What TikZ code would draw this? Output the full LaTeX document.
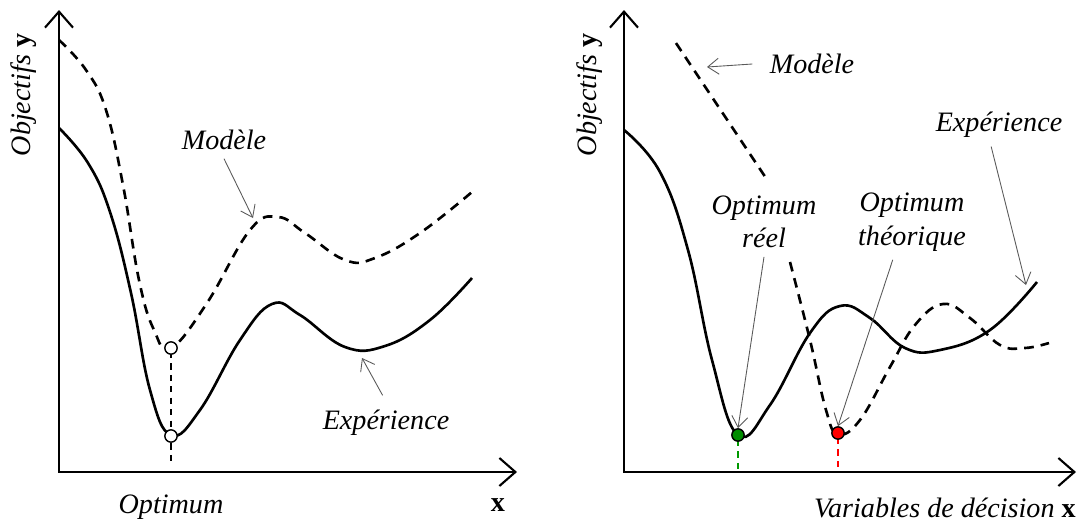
\documentclass[tikz,border=0pt]{standalone}
\usepackage{xcolor}
\usepackage{fontspec}
\setmainfont{Liberation Serif}
\usetikzlibrary{arrows,arrows.meta,positioning}

\begin{document}
\begin{tikzpicture}[
    x=0.02cm, y=-0.02cm,
    font=\fontsize{16}{19}\selectfont\itshape,
    axis/.style={line width=1.2pt, line join=miter, {Straight Barb[length=3.2mm, width=5.6mm]}-{Straight Barb[length=3.2mm, width=5.6mm]}},
    courbe/.style={line width=1.5pt},
    modele/.style={courbe, dash pattern=on 5.5pt off 4pt},
    repere/.style={line width=0.9pt, dash pattern=on 3.5pt off 3pt},
    line/.style={draw, black!65, line width=0.5pt, -{Straight Barb[length=2.2mm, width=3.2mm]}},
    legende/.style={inner sep=2pt, outer sep=3pt, align=center},
    optpt/.style={circle, draw, line width=0.8pt, fill=white, inner sep=0pt, minimum size=7pt}
]
    \useasboundingbox (0,0) rectangle (1080,522);

    % gauche
    \draw [axis] (59,10) |- (517,472);
    \node [rotate=90] (ylab1) at (24,95) {Objectifs \textbf{\textup{y}}};
    \node (xlab1) at (498,505) {\textbf{\textup{x}}};
    \node (optlab) at (171,507) {Optimum};

    \draw [modele] plot [smooth, tension=0.7] coordinates {(59,40) (86,70) (106,110) (123,185) (139,280) (154,330) (171,348) (207,303) (250,230) (278,217) (305,233) (345,260) (375,258) (420,233) (472,192)};
    \draw [courbe] plot [smooth, tension=0.7] coordinates {(59,128) (88,163) (110,212) (131,293) (150,390) (171,435) (200,410) (240,340) (272,304) (300,315) (345,347) (385,346) (430,320) (472,278)};

    \draw [repere] (171,352) -- (171,466);
    \node [optpt] (mod1) at (171,348) {};
    \node [optpt] (exp1pt) at (171,436) {};

    \node [legende] (modele1) at (224,140) {Modèle};
    \node [legende] (exp1) at (386,423) {Expérience};
    \coordinate (pm1) at (253,218);
    \coordinate (pe1) at (362,358);
    \path [line] (modele1.south) -- (pm1);
    \path [line, shorten <=4pt] (exp1.north) -- (pe1);

    % droite
    \draw [axis] (624,10) |- (1076,472);
    \node [rotate=90] (ylab2) at (590,95) {Objectifs \textbf{\textup{y}}};
    \node [anchor=east, inner sep=0pt] (xlab2) at (1076,508) {Variables de décision \textbf{\textup{x}}};

    \draw [modele] plot [smooth, tension=0.7] coordinates {(676,43) (722,112) (766,178)};
    \draw [modele] plot [smooth, tension=0.7] coordinates {(790,262) (810,340) (826,410) (838,434) (860,420) (890,367) (915,325) (943,304) (970,318) (1000,345) (1025,348) (1049,343)};
    \draw [courbe] plot [smooth, tension=0.7] coordinates {(624,130) (660,172) (688,250) (712,360) (738,435) (770,405) (810,333) (840,306) (870,318) (905,348) (940,350) (990,330) (1037,282)};

    \draw [repere, green!60!black] (738,440) -- (738,471);
    \draw [repere, red] (838,438) -- (838,471);
    \node [optpt, fill=green!55!black] (reel) at (738,435) {};
    \node [optpt, fill=red] (theo) at (838,433) {};

    \node [legende, outer sep=8pt] (modele2) at (812,64) {Modèle};
    \node [legende] (optreel) at (764,222) {Optimum\\réel};
    \node [legende] (opttheo) at (912,222) {Optimum\\théorique};
    \node [legende] (exp2) at (999,125) {Expérience};
    \coordinate (pm2) at (707,67);
    \coordinate (pe2) at (1026,285);
    \path [line] (modele2.west) -- (pm2);
    \path [line] (optreel.south) -- (reel.north);
    \path [line] (opttheo.243) -- (theo.north);
    \path [line] (exp2.250) -- (pe2);
\end{tikzpicture}
\end{document}
